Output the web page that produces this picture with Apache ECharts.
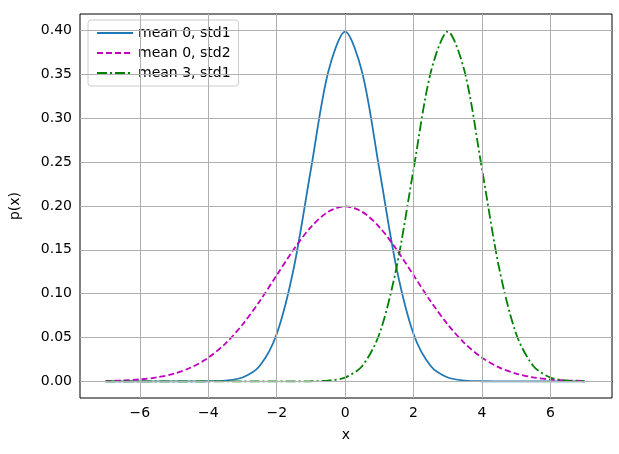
<!DOCTYPE html>
<html>
<head>
<meta charset="utf-8">
<script src="https://cdn.jsdelivr.net/npm/echarts@6/dist/echarts.min.js"></script>
</head>
<body style="margin:0">
<div id="main" style="width:619px;height:454px;"></div>
<script>
var xs = [-7,-6.5,-6,-5.5,-5,-4.5,-4,-3.5,-3,-2.5,-2,-1.5,-1,-0.5,0,0.5,1,1.5,2,2.5,3,3.5,4,4.5,5,5.5,6,6.5,7];
var mean0std1 = [0,0,0,0,0,0.00002,0.00013,0.0009,0.0044,0.0175,0.054,0.1295,0.242,0.3521,0.3989,0.3521,0.242,0.1295,0.054,0.0175,0.0044,0.0009,0.00013,0.00002,0,0,0,0,0];
var mean0std2 = [0.0004,0.001,0.0022,0.0045,0.0088,0.0159,0.027,0.0431,0.0648,0.0913,0.121,0.1506,0.176,0.1933,0.1995,0.1933,0.176,0.1506,0.121,0.0913,0.0648,0.0431,0.027,0.0159,0.0088,0.0045,0.0022,0.001,0.0004];
var mean3std1 = [0,0,0,0,0,0,0,0,0,0,0,0.00002,0.00013,0.0009,0.0044,0.0175,0.054,0.1295,0.242,0.3521,0.3989,0.3521,0.242,0.1295,0.054,0.0175,0.0044,0.0009,0.00013];
var xTicks = [-6,-4,-2,0,2,4,6];
var yTicks = [0,0.05,0.1,0.15,0.2,0.25,0.3,0.35,0.4];

function pairs(vals) {
    return xs.map(function (x, i) { return [x, vals[i]]; });
}
var gridLines = xTicks.map(function (v) { return {xAxis: v}; })
    .concat(yTicks.map(function (v) { return {yAxis: v}; }));

var font = 'DejaVu Sans';
var myChart = echarts.init(document.getElementById('main'));
myChart.setOption({
    animation: false,
    textStyle: {fontFamily: font},
    grid: {left: 80, right: 7, top: 14, bottom: 56, show: true, borderColor: '#000', borderWidth: 1},
    legend: {
        orient: 'vertical', left: 88, top: 20, itemWidth: 36, itemHeight: 10, itemGap: 6,
        itemStyle: {opacity: 0},
        borderColor: '#ccc', borderWidth: 1, borderRadius: 3, backgroundColor: '#fff', padding: [6, 8],
        textStyle: {fontSize: 14, color: '#000', fontFamily: font}
    },
    xAxis: {
        type: 'value', min: -7.75, max: 7.8, name: 'x', nameLocation: 'middle', nameGap: 30,
        nameTextStyle: {fontSize: 14, color: '#000'},
        axisLine: {lineStyle: {color: '#000'}},
        axisTick: {customValues: xTicks, length: 4, lineStyle: {color: '#000'}},
        axisLabel: {customValues: xTicks, fontSize: 14, color: '#000', formatter: function (v) { return v < 0 ? '\u2212' + (-v) : v; }},
        splitLine: {show: false}
    },
    yAxis: {
        type: 'value', min: -0.019, max: 0.419, name: 'p(x)', nameLocation: 'middle', nameGap: 58,
        nameTextStyle: {fontSize: 14, color: '#000'},
        axisLine: {show: true, lineStyle: {color: '#000'}},
        axisTick: {show: true, customValues: yTicks, length: 4, lineStyle: {color: '#000'}},
        axisLabel: {customValues: yTicks, fontSize: 14, color: '#000', formatter: function (v) { return v.toFixed(2); }},
        splitLine: {show: false}
    },
    series: [
        {name: 'mean 0, std1', type: 'line', data: pairs(mean0std1), smooth: 0.3, showSymbol: false, symbol: 'none',
         lineStyle: {color: '#1f77b4', width: 1.8}, itemStyle: {color: '#1f77b4'},
         markLine: {silent: true, symbol: 'none', label: {show: false}, lineStyle: {color: '#b0b0b0', type: 'solid', width: 1}, data: gridLines},
         z: 3},
        {name: 'mean 0, std2', type: 'line', data: pairs(mean0std2), smooth: 0.3, showSymbol: false, symbol: 'none',
         lineStyle: {color: '#bf00bf', width: 1.8, type: [6, 3]}, itemStyle: {color: '#bf00bf'}, z: 3},
        {name: 'mean 3, std1', type: 'line', data: pairs(mean3std1), smooth: 0.3, showSymbol: false, symbol: 'none',
         lineStyle: {color: '#008000', width: 1.8, type: [10, 3, 2, 3]}, itemStyle: {color: '#008000'}, z: 3}
    ]
});
</script>
</body>
</html>
